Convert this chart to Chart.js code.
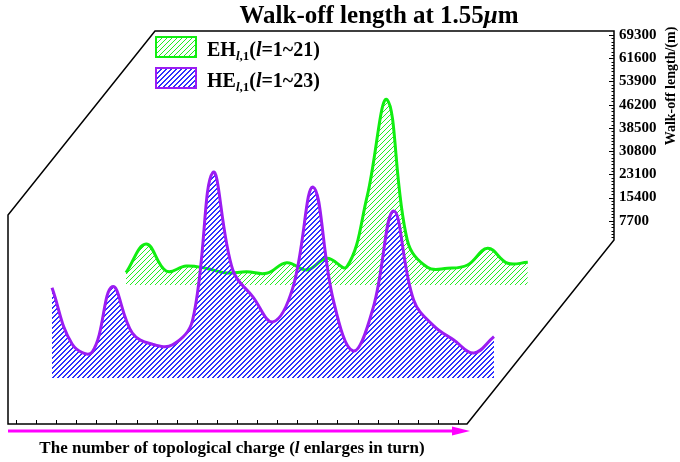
<!DOCTYPE html>
<html>
<head>
<meta charset="utf-8">
<script src="https://cdn.jsdelivr.net/npm/chart.js@4.4.1/dist/chart.umd.min.js"></script>
<style>
  body { margin: 0; background: #fff; }
  #wrap { width: 680px; height: 462px; }
</style>
</head>
<body>
<div id="wrap"><canvas id="chart" width="680" height="462"></canvas></div>
<script>
// Datos
const heOrders = [1, 2, 3, 4, 5, 6, 7, 8, 9, 10, 11, 12, 13, 14, 15, 16, 17, 18, 19, 20, 21, 22, 23];
const heWalkOff = [29900, 11300, 8600, 30300, 14900, 11200, 11000, 19200, 68100, 35800, 26900, 18600,
  30200, 63300, 25900, 8950, 23600, 55400, 25900, 17300, 12600, 8300, 13700];
const ehOrders = [1, 2, 3, 4, 5, 6, 7, 8, 9, 10, 11, 12, 13, 14, 15, 16, 17, 18, 19, 20, 21];
const ehWalkOff = [4080, 13600, 4640, 6300, 5500, 3980, 4400, 3900, 7400, 5000, 8850, 6070,
  29300, 61400, 14900, 5870, 5540, 6630, 12170, 7200, 7530];
const yTicks = [7700, 15400, 23100, 30800, 38500, 46200, 53900, 61600, 69300];

// Geometría del marco pseudo-3D
const AREA = { left: 8, right: 614, top: 35, bottom: 424 };
const PX_PER_L = 20.09;
const PX_PER_M = 209 / 69300;
const DEPTH_X = 147, DEPTH_Y = 184, FRONT_H = 209;
const FONT = '"Liberation Serif", "Times New Roman", serif';

function xRange(firstPx) {
  const min = 1 - (firstPx - AREA.left) / PX_PER_L;
  return { min, max: min + (AREA.right - AREA.left) / PX_PER_L };
}
function yRange(basePx) {
  return { min: -(AREA.bottom - basePx) / PX_PER_M, max: (basePx - AREA.top) / PX_PER_M };
}

// rayado diagonal pixel a pixel
function hatch(color, step, thick) {
  const c = document.createElement('canvas');
  c.width = step; c.height = step;
  const g = c.getContext('2d');
  g.fillStyle = color;
  for (let i = 0; i < step; i++) {
    for (let k = 0; k < thick; k++) {
      g.fillRect(i, (step - 1 - i + k) % step, 1, 1);
    }
  }
  return g.createPattern(c, 'repeat');
}
const heHatch = hatch('#3030ff', 5, 2);
const ehHatch = hatch('#22ee22', 5, 1);
const heLine = '#9b1cf2';
const ehLine = '#11ee11';

// texto con segmentos (cursiva / subíndice)
function drawRuns(ctx, x, y, runs) {
  runs.forEach(r => {
    ctx.font = r.font;
    ctx.fillText(r.t, x, y + (r.dy || 0));
    x += ctx.measureText(r.t).width;
  });
  return x;
}
function runsWidth(ctx, runs) {
  let w = 0;
  runs.forEach(r => { ctx.font = r.font; w += ctx.measureText(r.t).width; });
  return w;
}

const deco = {
  id: 'deco',
  beforeDatasetsDraw(chart) {
    const { ctx, chartArea: a, scales } = chart;
    const fl = a.left, fb = a.bottom, br = a.right;
    const fr = br - DEPTH_X, ft = fb - FRONT_H;
    const bl = fl + DEPTH_X, bt = ft - DEPTH_Y, bb = fb - DEPTH_Y;
    ctx.save();
    ctx.strokeStyle = '#000';
    ctx.lineWidth = 1.5;
    ctx.beginPath();
    ctx.moveTo(fl, ft); ctx.lineTo(fl, fb); ctx.lineTo(fr, fb);
    ctx.lineTo(br, bb); ctx.lineTo(br, bt); ctx.lineTo(bl, bt);
    ctx.closePath();
    ctx.stroke();

    // ticks eje derecho
    ctx.lineWidth = 1;
    ctx.beginPath();
    for (let v = 0; v <= 69300; v += 1100) {
      const y = Math.round(scales.y.getPixelForValue(v)) + 0.5;
      if (y < bt || y > bb + 1) continue;
      const len = v % 7700 === 0 ? 5 : 2.5;
      ctx.moveTo(br, y); ctx.lineTo(br - len, y);
    }
    // ticks eje inferior
    heOrders.forEach(l => {
      const x = Math.round(scales.xFront.getPixelForValue(l)) + 0.5;
      ctx.moveTo(x, fb); ctx.lineTo(x, fb - 4);
    });
    ctx.stroke();

    // flecha
    ctx.strokeStyle = '#ff00ff';
    ctx.fillStyle = '#ff00ff';
    ctx.lineWidth = 3;
    ctx.beginPath();
    ctx.moveTo(fl, fb + 7); ctx.lineTo(fr - 12, fb + 7);
    ctx.stroke();
    ctx.beginPath();
    ctx.moveTo(fr - 15, fb + 2.5); ctx.lineTo(fr + 3, fb + 7); ctx.lineTo(fr - 15, fb + 11.5);
    ctx.closePath();
    ctx.fill();
    ctx.restore();
  },
  afterDraw(chart) {
    const { ctx } = chart;
    ctx.save();
    ctx.fillStyle = '#000';
    ctx.textBaseline = 'alphabetic';

    // título
    const b25 = 'bold 25px ' + FONT;
    const title = [{ t: 'Walk-off length at 1.55', font: b25 }, { t: 'μ', font: 'bold italic 25px ' + FONT }, { t: 'm', font: b25 }];
    drawRuns(ctx, 379 - runsWidth(ctx, title) / 2, 23, title);

    // etiqueta eje x
    const b17 = 'bold 17px ' + FONT;
    const xl = [{ t: 'The number of topological charge (', font: b17 }, { t: 'l', font: 'bold italic 17px ' + FONT }, { t: ' enlarges in turn)', font: b17 }];
    drawRuns(ctx, 232 - runsWidth(ctx, xl) / 2, 453, xl);

    // etiqueta eje y
    ctx.save();
    ctx.translate(675, 86);
    ctx.rotate(-Math.PI / 2);
    ctx.font = 'bold 14px ' + FONT;
    ctx.textAlign = 'center';
    ctx.fillText('Walk-off length/(m)', 0, 0);
    ctx.restore();

    // leyenda
    const items = [
      { name: 'EH', range: '=1~21)', pat: ehHatch, line: ehLine, y: 37 },
      { name: 'HE', range: '=1~23)', pat: heHatch, line: heLine, y: 68 }
    ];
    const b20 = 'bold 20px ' + FONT;
    items.forEach(it => {
      ctx.fillStyle = it.pat;
      ctx.fillRect(156, it.y, 40, 20);
      ctx.strokeStyle = it.line;
      ctx.lineWidth = 2;
      ctx.strokeRect(156, it.y, 40, 20);
      ctx.fillStyle = '#000';
      drawRuns(ctx, 207, it.y + 19, [
        { t: it.name, font: b20 },
        { t: 'l', font: 'bold italic 13px ' + FONT, dy: 4 },
        { t: ',1', font: 'bold 13px ' + FONT, dy: 4 },
        { t: '(', font: b20 },
        { t: 'l', font: 'bold italic 20px ' + FONT },
        { t: it.range, font: b20 }
      ]);
    });
    ctx.restore();
  }
};

const hidden = r => Object.assign({ type: 'linear', display: false }, r);

new Chart(document.getElementById('chart'), {
  type: 'line',
  data: {
    datasets: [
      {
        label: 'HE',
        data: heOrders.map((l, i) => ({ x: l, y: heWalkOff[i] })),
        xAxisID: 'xHE',
        yAxisID: 'yHE',
        borderColor: heLine,
        backgroundColor: heHatch,
        borderWidth: 3,
        fill: 'origin',
        tension: 0.4,
        pointRadius: 0
      },
      {
        label: 'EH',
        data: ehOrders.map((l, i) => ({ x: l, y: ehWalkOff[i] })),
        xAxisID: 'xEH',
        yAxisID: 'yEH',
        borderColor: ehLine,
        backgroundColor: ehHatch,
        borderWidth: 3,
        fill: 'origin',
        tension: 0.4,
        pointRadius: 0
      }
    ]
  },
  options: {
    responsive: false,
    animation: false,
    layout: { padding: { left: AREA.left, top: AREA.top, right: 0, bottom: 462 - AREA.bottom } },
    plugins: {
      legend: { display: false },
      tooltip: { enabled: false }
    },
    scales: {
      xFront: hidden(xRange(16)),
      xHE: hidden(xRange(52)),
      yHE: hidden(yRange(378)),
      xEH: hidden(xRange(126)),
      yEH: hidden(yRange(285)),
      y: {
        type: 'linear',
        position: 'right',
        min: yRange(244).min,
        max: 69300,
        afterBuildTicks: s => { s.ticks = yTicks.map(v => ({ value: v })); },
        afterFit: s => { s.width = 680 - AREA.right; },
        grid: { display: false, drawTicks: false, tickLength: 0 },
        border: { display: false },
        ticks: {
          color: '#000',
          padding: 5,
          font: { family: FONT, size: 15, weight: 'bold' },
          callback: v => String(v)
        }
      }
    }
  },
  plugins: [deco]
});
</script>
</body>
</html>
